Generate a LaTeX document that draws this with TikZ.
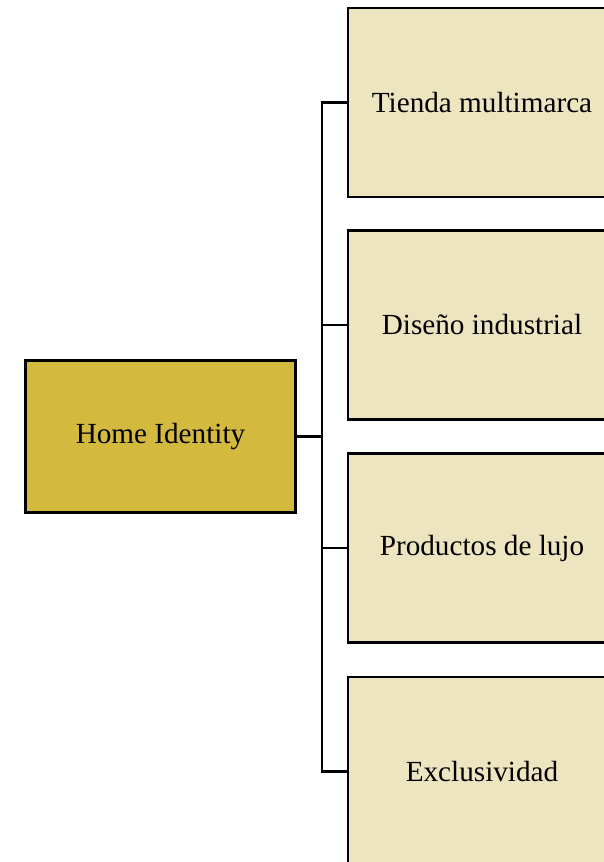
\documentclass[tikz,border=0pt]{standalone}
\usepackage{fontspec}
\setmainfont{Liberation Serif}
\definecolor{mainfill}{HTML}{D4B93F}
\definecolor{subfill}{HTML}{EDE4C0}
\begin{document}
\begin{tikzpicture}[x=1pt,y=-1pt,
  box/.style={draw=black,line width=2.4pt,rectangle,inner sep=0pt,font=\fontsize{29.2}{35}\selectfont,text=black},
  mainbox/.style={box,fill=mainfill,minimum width=270pt,minimum height=152pt},
  subbox/.style={box,fill=subfill,minimum width=268pt,minimum height=189pt},
  conn/.style={draw=black,line width=2.2pt}]
\useasboundingbox (0,0) rectangle (603,862);
\node[mainbox] (main) at (160.5,436.5) {Home Identity};
\node[subbox] (b1) at (482,102.5) {Tienda multimarca};
\node[subbox] (b2) at (482,325) {Diseño industrial};
\node[subbox] (b3) at (482,548) {Productos de lujo};
\node[subbox] (b4) at (482,771.5) {Exclusividad};
\coordinate (j) at (322,436.5);
\draw[conn] (main.east) -- (j);
\draw[conn] (j) |- (b1.west);
\draw[conn] (j) |- (b2.west);
\draw[conn] (j) |- (b3.west);
\draw[conn] (j) |- (b4.west);
\end{tikzpicture}
\end{document}
